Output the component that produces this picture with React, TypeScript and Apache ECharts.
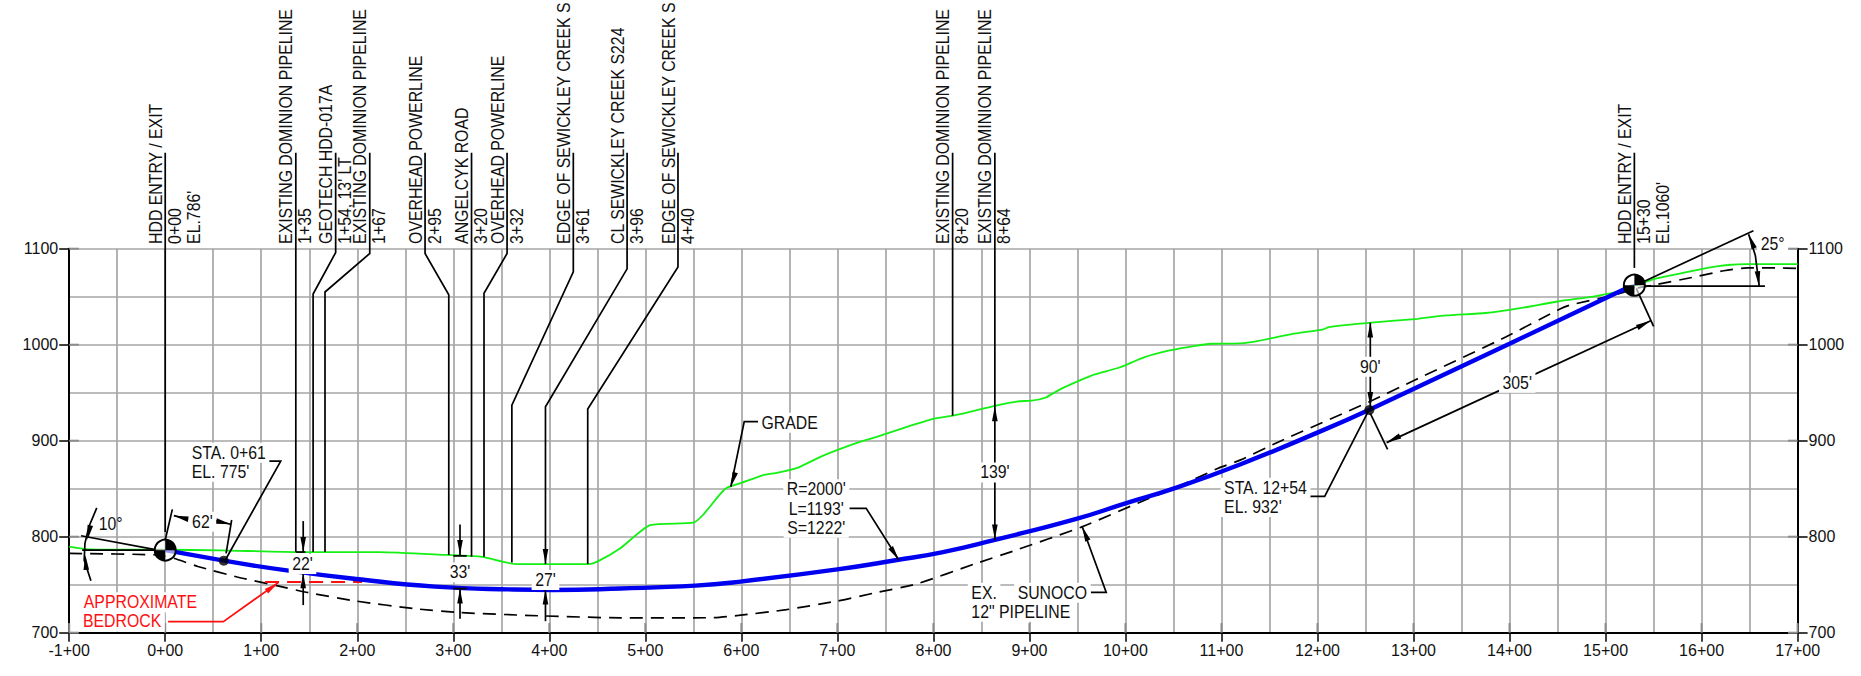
import React, { useEffect, useRef } from "react";
import * as echarts from "echarts";

// station is in hundreds of feet, elevation in feet
const gradeProfile = [
  [-1, 789.6], [-0.79, 786.8], [0, 786.4], [0.58, 785.8], [1.41, 784], [2.23, 784], [2.93, 781], [3.3, 779],
  [3.65, 771.5], [4.41, 771.5], [4.5, 774], [4.74, 788], [5.05, 812], [5.5, 814.6], [5.6, 822.6], [5.83, 849.7],
  [6.0, 856], [6.22, 864], [6.38, 866.7], [6.59, 872], [6.84, 884], [7.21, 898], [7.41, 904], [7.74, 915],
  [7.99, 922.6], [8.2, 926], [8.36, 929.5], [8.65, 936.5], [8.88, 941], [9.02, 941.7], [9.17, 945], [9.31, 953],
  [9.52, 962.5], [9.68, 969], [9.93, 976], [10.2, 987], [10.46, 994], [10.71, 998.6], [10.9, 1001], [11.2, 1001.4],
  [11.36, 1003.5], [11.73, 1011], [12.06, 1016], [12.12, 1018.4], [12.56, 1023], [13.05, 1027], [13.34, 1030.5],
  [13.75, 1033], [14.08, 1037.5], [14.5, 1045], [14.9, 1050.7], [15.16, 1056], [15.32, 1062], [15.53, 1069],
  [15.82, 1075], [16.06, 1080], [16.27, 1083], [16.48, 1084], [17, 1084],
];
const hddStraightIn = [[0, 786], [0.61, 775]];
const hddCurve = [
  [0.61, 775], [1.285, 764.6], [1.985, 756], [2.81, 748], [3.63, 745], [4.04, 744.5], [4.74, 746],
  [5.52, 749], [5.97, 753], [7, 766], [7.62, 775.7], [8.1, 784], [8.63, 796.5], [9.47, 818], [10, 834.7],
  [10.5, 850], [11.2, 875.5], [12.06, 911], [12.54, 932.3],
];
const hddStraightOut = [[12.54, 932.3], [14, 1001], [15.2, 1058], [15.3, 1061]];
const pipelineProfile = [
  [-1, 782.6], [-0.07, 781], [0.09, 777.5], [0.34, 769], [0.75, 758], [1.16, 749], [1.49, 741.7], [1.985, 733],
  [2.6, 725], [3.06, 721], [3.96, 717.4], [4.74, 715.5], [5.68, 715.6], [5.97, 718], [6.47, 724], [7, 733],
  [7.37, 741], [7.83, 751], [8.44, 772], [8.86, 786], [9.54, 810], [10.2, 838], [10.5, 850], [10.96, 871],
  [11.2, 880], [11.6, 899], [12.54, 940.6], [13.01, 963], [13.96, 1008], [14.5, 1036], [14.62, 1041],
  [15.1, 1052], [15.32, 1058.7], [15.49, 1062], [15.9, 1070], [16.23, 1077], [16.48, 1080], [16.77, 1080], [17, 1079.5],
];
const bedrockLine = [[1.04, 752.8], [2.05, 752.8]];
const entryPoints = [[0.61, 775], [12.54, 932]];
const drillEnds = [[0, 786], [15.3, 1062]];

const blackLeaders = [
  [[0, 1200], [0, 805]],
  [[1.36, 1200], [1.36, 784]],
  [[1.775, 1200], [1.775, 1096], [1.54, 1052.8], [1.54, 784]],
  [[2.13, 1200], [2.13, 1095], [1.664, 1054.9], [1.664, 784]],
  [[2.706, 1200], [2.706, 1095], [2.953, 1052], [2.953, 781]],
  [[3.19, 1200], [3.19, 779]],
  [[3.56, 1200], [3.56, 1095], [3.32, 1053.5], [3.32, 779]],
  [[4.25, 1200], [4.25, 1076], [3.61, 937], [3.61, 773]],
  [[4.81, 1200], [4.81, 1079], [3.96, 935.4], [3.96, 771.5]],
  [[5.34, 1200], [5.34, 1081], [4.4, 933], [4.4, 771.5]],
  [[8.2, 1200], [8.2, 926]],
  [[8.64, 1200], [8.64, 796.5]],
  [[15.3, 1200], [15.3, 1080]],
  // 10 degree angle
  [[-0.877, 801], [-0.074, 786]],
  [[-0.865, 786], [0, 786]],
  [[-0.713, 830], [-0.795, 810.4], [-0.836, 793], [-0.844, 775.7], [-0.774, 754]],
  // 62 ft
  [[0.074, 828.5], [0, 796.5]],
  [[0.692, 817.4], [0.634, 782.6]],
  [[0.09, 821.9], [0.235, 818.4]],
  [[0.683, 813], [0.52, 816.7]],
  // station leaders
  [[1.03, 878.8], [1.203, 878.8], [0.626, 775.7]],
  [[11.905, 842], [12.075, 842], [12.537, 932]],
  [[6.2, 919.8], [6.03, 919.8], [5.89, 852]],
  [[7.127, 829.5], [7.3, 829.5], [7.64, 775.7]],
  [[9.64, 742], [9.8, 742], [9.55, 810.4]],
  // depth of cover
  [[1.437, 816.3], [1.437, 784]],
  [[1.437, 728.8], [1.437, 762]],
  [[1.36, 784], [1.46, 784]],
  [[1.37, 762], [1.52, 762]],
  [[3.07, 812.8], [3.07, 781]],
  [[3.07, 714.6], [3.07, 746]],
  [[3.0, 780], [3.14, 780]],
  [[3.0, 746], [3.14, 746]],
  [[3.96, 712], [3.96, 745]],
  [[12.55, 1023], [12.55, 935]],
  // 305 ft
  [[12.55, 928.5], [12.73, 891]],
  [[15.32, 1058.7], [15.5, 1019]],
  [[12.72, 898], [15.47, 1025]],
  // 25 degree angle
  [[15.36, 1064], [16.54, 1118.8]],
  [[15.4, 1061], [16.66, 1061]],
  [[16.49, 1115], [16.56, 1093], [16.6, 1061]],
];
const redLeaders = [[[0.03, 711.5], [0.605, 711.5], [1.18, 752.4]]];

// darker stubs where the hundred-foot grid lines meet the frame
const gridStubs = [
  ...[-1, 0, 1, 2, 3, 4, 5, 6, 7, 8, 9, 10, 11, 12, 13, 14, 15, 16, 17].map((s) => [[s, 700], [s, 710]]),
  ...[700, 800, 900, 1000, 1100].map((e) => [[-1, e], [-0.9, e]]),
  ...[700, 800, 900, 1000, 1100].map((e) => [[16.9, e], [17, e]]),
];

// tip station, tip elevation, base station, base elevation
const blackArrows = [
  [-0.811, 796.5, -0.783, 810.4],
  [-0.832, 781, -0.825, 770],
  [0.09, 821.9, 0.235, 818.4],
  [0.683, 813, 0.52, 816.7],
  [1.437, 784, 1.437, 800],
  [1.437, 762, 1.437, 746],
  [3.07, 781, 3.07, 797],
  [3.07, 746, 3.07, 730],
  [3.96, 771.5, 3.96, 787.8],
  [3.96, 745, 3.96, 729],
  [8.64, 936, 8.64, 920],
  [8.64, 797, 8.64, 813],
  [12.55, 1023, 12.55, 1007],
  [12.55, 935, 12.55, 951],
  [12.72, 898, 12.86, 905],
  [15.47, 1025, 15.33, 1018],
  [16.49, 1115, 16.55, 1100],
  [16.6, 1061, 16.58, 1078],
  [5.89, 852, 5.94, 868],
  [7.64, 775.7, 7.55, 789.5],
  [9.55, 810.4, 9.61, 795.5],
];
const redArrows = [[1.18, 752.4, 1.04, 742]];

const calloutTitles = [
  "HDD ENTRY / EXIT", "EXISTING DOMINION PIPELINE", "GEOTECH HDD-017A", "EXISTING DOMINION PIPELINE",
  "OVERHEAD POWERLINE", "ANGELCYK ROAD", "OVERHEAD POWERLINE", "EDGE OF SEWICKLEY CREEK S",
  "CL SEWICKLEY CREEK S224", "EDGE OF SEWICKLEY CREEK S", "EXISTING DOMINION PIPELINE",
  "EXISTING DOMINION PIPELINE", "HDD ENTRY / EXIT",
];
const calloutStations = ["0+00", "1+35", "1+54, 13' LT", "1+67", "2+95", "3+20", "3+32", "3+61", "3+96", "4+40", "8+20", "8+64", "15+30"];
const calloutTops = [0, 1.36, 1.775, 2.13, 2.706, 3.19, 3.56, 4.25, 4.81, 5.34, 8.2, 8.64, 15.3];
const calloutElevations = [{ st: 0, t: "EL.786'" }, { st: 15.3, t: "EL.1060'" }];

// text, station, elevation, align, colour, white backing
const noteTexts: any[] = [
  ["STA. 0+61", 0.276, 887.5, "left", "#111", true],
  ["EL. 775'", 0.276, 867.7, "left", "#111", true],
  ["10°", -0.568, 812.8, "center", "#111", false],
  ["62'", 0.387, 815.6, "center", "#111", true],
  ["22'", 1.43, 771.5, "center", "#111", true],
  ["33'", 3.07, 762.8, "center", "#111", true],
  ["27'", 3.96, 754.9, "center", "#111", true],
  ["APPROXIMATE", -0.848, 731.6, "left", "#ff1010", true],
  ["BEDROCK", -0.857, 711.5, "left", "#ff1010", true],
  ["GRADE", 6.21, 918.75, "left", "#111", true],
  ["R=2000'", 6.78, 849.3, "center", "#111", true],
  ["L=1193'", 6.78, 829, "center", "#111", true],
  ["S=1222'", 6.78, 809.4, "center", "#111", true],
  ["139'", 8.64, 867, "center", "#111", true],
  ["EX.", 8.395, 741.7, "left", "#111", true],
  ["SUNOCO", 8.877, 741.7, "left", "#111", true],
  ['12" PIPELINE', 8.395, 721.9, "left", "#111", true],
  ["STA. 12+54", 11.027, 851, "left", "#111", true],
  ["EL. 932'", 11.027, 831, "left", "#111", true],
  ["90'", 12.55, 977, "center", "#111", true],
  ["305'", 14.08, 960.4, "center", "#111", true],
  ["25°", 16.74, 1104.5, "center", "#111", true],
];

const FONT = "Liberation Sans";
const GRID = "#a6a6a6";
const INK = "#111111";

const polylineSeries = (lines: number[][][], stroke: string, z: number, lineWidth = 1.7) => ({
  type: "custom",
  z,
  clip: false,
  silent: true,
  data: lines.map((l, i) => [i, l[0][1]]),
  encode: { x: 0, y: 1 },
  renderItem: (p: any, api: any) => ({
    type: "polyline",
    shape: { points: lines[p.dataIndex].map((c) => api.coord(c)) },
    style: { stroke, lineWidth, fill: "none" },
  }),
});

const arrowSeries = (arrows: number[][], fill: string, z: number) => ({
  type: "custom",
  z,
  clip: false,
  silent: true,
  data: arrows.map((a) => [a[0], a[1]]),
  encode: { x: 0, y: 1 },
  renderItem: (p: any, api: any) => {
    const a = arrows[p.dataIndex];
    const tip = api.coord([a[0], a[1]]);
    const from = api.coord([a[2], a[3]]);
    const dx = from[0] - tip[0];
    const dy = from[1] - tip[1];
    const len = Math.hypot(dx, dy) || 1;
    const ux = dx / len;
    const uy = dy / len;
    const bx = tip[0] + ux * 15;
    const by = tip[1] + uy * 15;
    return {
      type: "polygon",
      shape: { points: [tip, [bx - uy * 2.8, by + ux * 2.8], [bx + uy * 2.8, by - ux * 2.8]] },
      style: { fill },
    };
  },
});

const hddLine = (data: number[][], smooth: number | boolean) => ({
  type: "line", name: "HDD profile", data, showSymbol: false, clip: false, z: 4, smooth,
  lineStyle: { color: "#0000f0", width: 4.4 },
});

export default function App() {
  const ref = useRef<HTMLDivElement>(null);
  useEffect(() => {
    document.body.style.margin = "0";
    const chart = echarts.init(ref.current!, undefined, { renderer: "svg" });
    const yAxisBase = {
      type: "value",
      min: 700,
      max: 1100,
      interval: 100,
      axisLine: { show: true, onZero: false, lineStyle: { color: "#000", width: 2 } },
      axisTick: { show: true, length: 10, lineStyle: { color: "#000", width: 1.5 } },
      axisLabel: { color: INK, fontFamily: FONT, fontSize: 16, margin: 11, formatter: (v: number) => `${v}` },
    };
    chart.setOption({
      animation: false,
      backgroundColor: "#fff",
      grid: { left: 69.2, right: 63.4, top: 248.7, bottom: 43.3 },
      xAxis: {
        type: "value",
        min: -1,
        max: 17,
        interval: 1,
        axisLine: { show: true, onZero: false, lineStyle: { color: "#000", width: 2 } },
        axisTick: { show: true, length: 9, lineStyle: { color: "#000", width: 1.5 } },
        axisLabel: {
          color: INK,
          fontFamily: FONT,
          fontSize: 16,
          margin: 10,
          hideOverlap: false,
          formatter: (v: number) => `${v}+00`,
        },
        splitLine: { show: true, lineStyle: { color: GRID, width: 1.7 } },
        minorTick: { show: false, splitNumber: 2 },
        minorSplitLine: { show: true, lineStyle: { color: GRID, width: 1.7 } },
      },
      yAxis: [
        {
          ...yAxisBase,
          position: "left",
          splitLine: { show: true, lineStyle: { color: GRID, width: 1.7 } },
          minorTick: { show: false, splitNumber: 2 },
          minorSplitLine: { show: true, lineStyle: { color: GRID, width: 1.7 } },
        },
        { ...yAxisBase, position: "right", splitLine: { show: false } },
      ],
      series: [
        polylineSeries(gridStubs, "#8c8c8c", 2, 2),
        {
          type: "line", name: "Grade", data: gradeProfile, showSymbol: false, clip: false, z: 3, smooth: 0.2,
          lineStyle: { color: "#14f014", width: 1.8 },
        },
        {
          type: "line", name: "Ex. Sunoco 12in pipeline", data: pipelineProfile, showSymbol: false, clip: false, z: 3, smooth: 0.2,
          lineStyle: { color: "#000", width: 1.7, type: [13, 8] },
        },
        {
          type: "line", name: "Approximate bedrock", data: bedrockLine, showSymbol: false, clip: false, z: 3,
          lineStyle: { color: "#ff1010", width: 2, type: [14, 8] },
        },
        hddLine(hddStraightIn, false),
        hddLine(hddCurve, 0.5),
        hddLine(hddStraightOut, false),
        polylineSeries(blackLeaders, "#000", 5),
        polylineSeries(redLeaders, "#ff1010", 5),
        arrowSeries(blackArrows, "#000", 6),
        arrowSeries(redArrows, "#ff1010", 6),
        {
          type: "scatter", data: entryPoints, symbol: "circle", symbolSize: 10, z: 7,
          itemStyle: { color: "#000" },
        },
        {
          type: "custom",
          z: 7,
          clip: false,
          silent: true,
          data: drillEnds,
          encode: { x: 0, y: 1 },
          renderItem: (p: any, api: any) => {
            const [cx, cy] = api.coord(drillEnds[p.dataIndex]);
            const r = 10.5;
            const quad = (a: number) => ({
              type: "sector",
              shape: { cx, cy, r, r0: 0, startAngle: a, endAngle: a + Math.PI / 2 },
              style: { fill: "#000" },
            });
            return {
              type: "group",
              children: [
                { type: "circle", shape: { cx, cy, r }, style: { fill: "rgba(255,255,255,0.6)", stroke: "#000", lineWidth: 2 } },
                quad(-Math.PI / 2),
                quad(Math.PI / 2),
              ],
            };
          },
        },
        {
          // rotated callouts above the grid
          type: "custom",
          z: 8,
          clip: false,
          silent: true,
          data: calloutTops.map((s) => [s, 1105]),
          encode: { x: 0, y: 1 },
          renderItem: (p: any, api: any) => {
            const i = p.dataIndex;
            const [x, y] = api.coord([calloutTops[i], 1105]);
            const rot = (text: string, dx: number) => ({
              type: "text",
              x: x + dx,
              y,
              rotation: Math.PI / 2,
              scaleX: 0.88,
              style: { text, fill: INK, fontFamily: FONT, fontSize: 18, align: "left", verticalAlign: "middle" },
            });
            const children: any[] = [rot(calloutTitles[i], -9.2), rot(calloutStations[i], 9.8)];
            const el = calloutElevations.find((e) => e.st === calloutTops[i]);
            if (el) children.push(rot(el.t, 28.8));
            return { type: "group", children };
          },
        },
        {
          // flat notes with optional white backing
          type: "custom",
          z: 8,
          clip: false,
          silent: true,
          data: noteTexts.map((n) => [n[1], n[2]]),
          encode: { x: 0, y: 1 },
          renderItem: (p: any, api: any) => {
            const n = noteTexts[p.dataIndex];
            const [x, y] = api.coord([n[1], n[2]]);
            return {
              type: "text",
              x: n[3] === "left" && n[5] ? x - 3.5 : x,
              y,
              scaleX: 0.88,
              style: {
                text: n[0],
                fill: n[4],
                fontFamily: FONT,
                fontSize: 18,
                align: n[3],
                verticalAlign: "middle",
                backgroundColor: n[5] ? "#fff" : undefined,
                padding: n[5] ? [1, 4] : 0,
              },
            };
          },
        },
      ],
    });
    return () => chart.dispose();
  }, []);
  return <div ref={ref} style={{ position: "absolute", left: 0, top: 0, width: 1861, height: 676 }} />;
}
